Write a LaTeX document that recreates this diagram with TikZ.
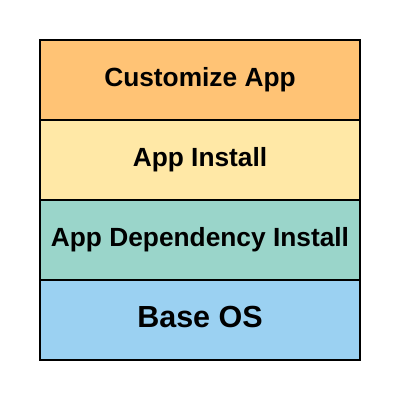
\documentclass[tikz,border=0pt]{standalone}
\usepackage{fontspec}
\setmainfont{Liberation Sans}
\usetikzlibrary{positioning}
\definecolor{custbg}{HTML}{FFC375}
\definecolor{instbg}{HTML}{FFE8A6}
\definecolor{depbg}{HTML}{9AD5CA}
\definecolor{osbg}{HTML}{9BD1F2}
\tikzset{
  layer/.style={draw=black, line width=2pt, minimum width=320pt, minimum height=80pt,
    inner sep=0pt, outer sep=0pt, font=\fontsize{26.3}{31}\selectfont\bfseries},
  big/.style={font=\fontsize{30.5}{36}\selectfont\bfseries, text depth=6pt},
}
\begin{document}
\begin{tikzpicture}
  \useasboundingbox (0,0) rectangle (400pt,400pt);
  \node[layer, fill=custbg] (cust) at (200pt,320pt) {Customize App};
  \node[layer, fill=instbg, below=0pt of cust] (inst) {App Install};
  \node[layer, fill=depbg, below=0pt of inst] (dep) {App Dependency Install};
  \node[layer, big, fill=osbg, below=0pt of dep] (os) {Base OS};
\end{tikzpicture}
\end{document}
